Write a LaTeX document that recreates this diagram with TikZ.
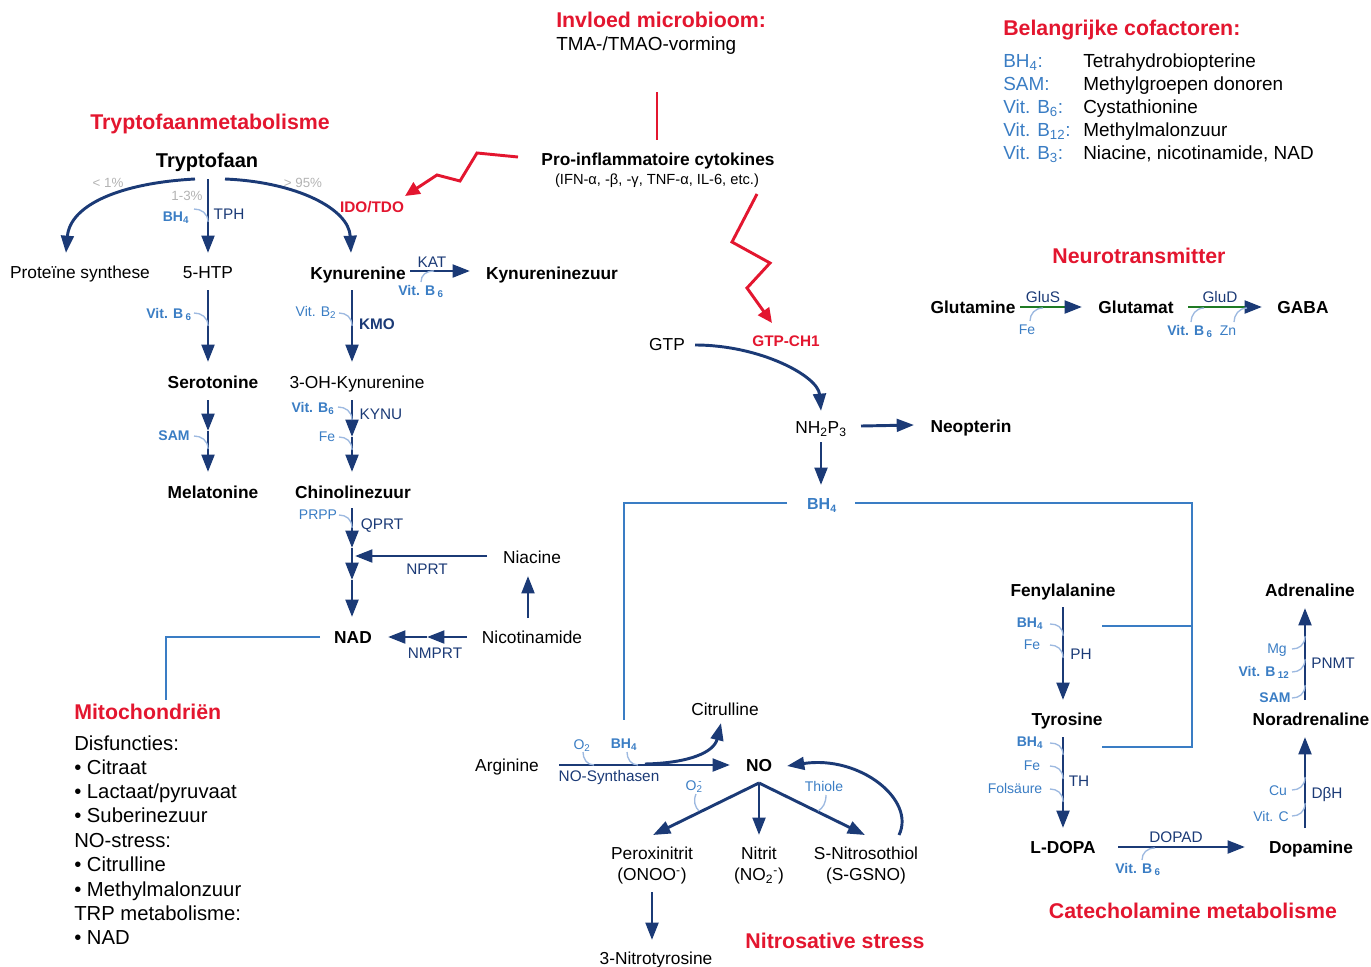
\documentclass[tikz,border=0pt]{standalone}
\usepackage{fontspec}
\setmainfont{Liberation Sans}
\usetikzlibrary{arrows.meta,calc}
\definecolor{navy}{HTML}{1B3A76}
\definecolor{cblue}{HTML}{3A7DC4}
\definecolor{hookc}{HTML}{9DB9E0}
\definecolor{lineblue}{HTML}{3A7DC4}
\definecolor{myred}{HTML}{E3162F}
\definecolor{mygray}{HTML}{B3B3B3}
\definecolor{mygreen}{HTML}{1F7A24}
\newcommand\hkd[2]{\draw[hookl] #1 .. controls +(7,0) and +(0,-9) .. #2;}
\newcommand\hku[2]{\draw[hookl] #1 .. controls +(7,0) and +(0,9) .. #2;}
\newcommand\hkh[2]{\draw[hookl] #1 .. controls +(0,-7) and +(-8,0) .. #2;}
\begin{document}
\begin{tikzpicture}[x=0.75pt,y=-0.75pt,
  every node/.style={inner sep=0pt},
  bn/.style={font=\fontsize{13}{15}\selectfont\bfseries, text height=9.3pt, text depth=0pt},
  rn/.style={font=\fontsize{13}{15}\selectfont, text height=9.3pt, text depth=0pt},
  enz/.style={font=\fontsize{11.5}{13}\selectfont, text=navy, text height=8.2pt, text depth=0pt},
  enzb/.style={font=\fontsize{11.5}{13}\selectfont\bfseries, text=navy, text height=8.2pt, text depth=0pt},
  cof/.style={font=\fontsize{10.5}{12}\selectfont, text=cblue, text height=7.5pt, text depth=0pt},
  cofb/.style={font=\fontsize{10.5}{12}\selectfont\bfseries, text=cblue, text height=7.5pt, text depth=0pt},
  grl/.style={font=\fontsize{10}{12}\selectfont, text=mygray, text height=7.2pt, text depth=0pt},
  hdr/.style={font=\fontsize{16}{18}\selectfont\bfseries, text=myred, text height=11.5pt, text depth=0pt},
  redb/.style={font=\fontsize{11.5}{13}\selectfont\bfseries, text=myred, text height=8.2pt, text depth=0pt},
  lst/.style={font=\fontsize{15.2}{18}\selectfont, anchor=west, text height=10.9pt, text depth=0pt},
  tab/.style={font=\fontsize{14.2}{17}\selectfont, anchor=west, text height=10.2pt, text depth=0pt},
  arr/.style={draw=navy, line width=2.2pt, -{Triangle[length=13pt,width=9.5pt]}},
  garr/.style={draw=mygreen, line width=2.2pt, -{Triangle[length=13pt,width=9.5pt,color=navy]}},
  redarr/.style={draw=myred, line width=2.2pt, line join=miter, -{Triangle[length=11pt,width=10pt]}},
  redl/.style={draw=myred, line width=1.8pt},
  hookl/.style={draw=hookc, line width=1pt},
  bline/.style={draw=lineblue, line width=1.6pt}]
\useasboundingbox (0,0) rectangle (1371,967);

% ---------------- headers ----------------
\node[hdr] (h1) at (210,122) {Tryptofaanmetabolisme};
\node[hdr,anchor=west] (h2) at (556,20) {Invloed microbioom:};
\node[tab] (h2b) at (556,44) {TMA-/TMAO-vorming};
\node[hdr,anchor=west] (h3) at (1003,28) {Belangrijke cofactoren:};
\node[tab,text=cblue] (t1) at (1003,61) {BH\textsubscript{4}:};
\node[tab,text=cblue] (t2) at (1003,84) {SAM:};
\node[tab,text=cblue] (t3) at (1003,107) {Vit. B\textsubscript{6}:};
\node[tab,text=cblue] (t4) at (1003,130) {Vit. B\textsubscript{12}:};
\node[tab,text=cblue] (t5) at (1003,153) {Vit. B\textsubscript{3}:};
\node[tab] (u1) at (1083,61) {Tetrahydrobiopterine};
\node[tab] (u2) at (1083,84) {Methylgroepen donoren};
\node[tab] (u3) at (1083,107) {Cystathionine};
\node[tab] (u4) at (1083,130) {Methylmalonzuur};
\node[tab] (u5) at (1083,153) {Niacine, nicotinamide, NAD};
\node[hdr] (h4) at (1139,256) {Neurotransmitter};
\node[hdr,anchor=west] (h5) at (74,712) {Mitochondriën};
\node[lst] (m1) at (74,743) {Disfuncties:};
\node[lst] (m2) at (74,767) {• Citraat};
\node[lst] (m3) at (74,791) {• Lactaat/pyruvaat};
\node[lst] (m4) at (74,815) {• Suberinezuur};
\node[lst] (m5) at (74,840) {NO-stress:};
\node[lst] (m6) at (74,864) {• Citrulline};
\node[lst] (m7) at (74,889) {• Methylmalonzuur};
\node[lst] (m8) at (74,913) {TRP metabolisme:};
\node[lst] (m9) at (74,937) {• NAD};
\node[hdr] (h6) at (835,941) {Nitrosative stress};
\node[hdr] (h7) at (1193,911) {Catecholamine metabolisme};

% ---------------- tryptophan ----------------
\node[bn,font=\fontsize{15}{17}\selectfont\bfseries,text height=10.7pt] (trp) at (207,160) {Tryptofaan};
\node[rn] (prot) at (80,272) {Proteïne synthese};
\node[rn] (htp) at (208,272) {5-HTP};
\node[bn] (kyn) at (358,273) {Kynurenine};
\node[bn] (kynz) at (552,273) {Kynureninezuur};
\node[bn] (sero) at (213,382) {Serotonine};
\node[bn] (mela) at (213,492) {Melatonine};
\node[rn] (ohk) at (357,382) {3-OH-Kynurenine};
\node[bn] (chin) at (353,492) {Chinolinezuur};
\node[bn] (nad) at (353,637) {NAD};
\node[rn] (nia) at (532,557) {Niacine};
\node[rn] (nic) at (532,637) {Nicotinamide};

\node[grl] (p1) at (108,183) {< 1\%};
\node[grl] (p2) at (187,196) {1-3\%};
\node[grl] (p3) at (303,183) {> 95\%};
\node[cofb] (c1) at (176,216) {BH\textsubscript{4}};
\node[enz] (tph) at (229,214) {TPH};
\node[redb] (ido) at (372,207) {IDO/TDO};

\draw[arr] ($(trp)+(-12,19)$) .. controls +(-75,4) and +(4,-48) .. ($(prot)+(-14,-19)$);
\draw[arr] ($(trp)+(1,19)$) -- ($(htp)+(0,-19)$);
\draw[arr] ($(trp)+(18,19)$) .. controls +(72,3) and +(-2,-44) .. ($(kyn)+(-7,-20)$);
\hkd{(194,209)}{(208,222)}

\draw[arr] ($(htp)+(0,18)$) -- ($(sero)+(-5,-20)$);
\node[cofb] (c2) at (169,313) {Vit. B\,\textsubscript{6}};
\hkd{(194,313)}{(208,326)}

\coordinate (sm) at (208,431);
\draw[arr] ($(sero)+(-5,18)$) -- (sm);
\draw[arr] (sm) -- ($(mela)+(-5,-20)$);
\node[cofb] (c3) at (174,435) {SAM};
\hkd{(194,436)}{(208,449)}

\draw[arr] ($(kyn)+(-6,17)$) -- ($(ohk)+(-5,-20)$);
\node[cof] (c4) at (316,311) {Vit. B\textsubscript{2}};
\hkd{(339,313)}{(352,326)}
\node[enzb] (kmo) at (377,324) {KMO};

\coordinate (ok) at (352,437);
\draw[arr] ($(ohk)+(-5,18)$) -- (ok);
\draw[arr] (ok) -- ($(chin)+(-1,-20)$);
\node[cofb] (c5) at (313,407) {Vit. B\textsubscript{6}};
\hkd{(338,407)}{(352,420)}
\node[enz] (kynu) at (381,414) {KYNU};
\node[cof] (c6) at (327,436) {Fe};
\hkd{(339,437)}{(352,450)}

\coordinate (q1) at (352,548);
\coordinate (q2) at (352,580);
\draw[arr] ($(chin)+(-1,16)$) -- (q1);
\draw[arr] (q1) -- (q2);
\draw[arr] (q2) -- ($(nad)+(-1,-20)$);
\node[cof] (c7) at (318,514) {PRPP};
\hkd{(339,515)}{(352,528)}
\node[enz] (qprt) at (382,524) {QPRT};
\draw[arr] ($(nia)+(-45,-1)$) -- ($(chin)+(2,64)$);
\node[enz] (nprt) at (427,569) {NPRT};
\draw[arr] ($(nic)+(-4,-19)$) -- ($(nia)+(-4,19)$);
\coordinate (nn) at (427,637);
\draw[arr] ($(nic)+(-65,0)$) -- (nn);
\draw[arr] (nn) -- ($(nad)+(35,0)$);
\node[enz] (nmprt) at (435,653) {NMPRT};

\draw[arr] ($(kyn)+(52,-2)$) -- ($(kynz)+(-82,-2)$);
\node[enz] (kat) at (432,262) {KAT};
\node[cofb] (c8) at (421,290) {Vit. B\,\textsubscript{6}};
\hkh{(421,282)}{(434,271)}

\coordinate (mt) at (166,700);
\draw[bline] ($(nad)+(-33,0)$) -- (166,637) -- (mt);

% ---------------- cytokines ----------------
\node[bn] (cyt) at (658,159) {Pro-inflammatoire cytokines};
\node[font=\fontsize{11}{13}\selectfont, text height=7.9pt, text depth=0pt] (cyt2) at (657,179) {(IFN-α, -β, -γ, TNF-α, IL-6, etc.)};
\draw[redl] ($(h2b.west)+(101,48)$) -- ($(cyt)+(-1,-19)$);
\draw[redarr] ($(cyt)+(-140,-2)$) -- (477,153) -- (460,181) -- (437,175) -- ($(ido)+(33,-11)$);
\node[redb] (gtpch) at (786,341) {GTP-CH1};
\draw[redarr] ($(cyt2)+(100,15)$) -- (732,242) -- (770,263) -- (747,288) -- ($(gtpch)+(-14,-18)$);

% ---------------- BH4 synthesis ----------------
\node[rn] (gtp) at (667,344) {GTP};
\node[rn] (nhp) at (821,427) {NH\textsubscript{2}P\textsubscript{3}};
\node[bn] (neo) at (971,426) {Neopterin};
\node[font=\fontsize{12}{14}\selectfont\bfseries, text=cblue, text height=8.6pt, text depth=0pt] (bh4) at (822,504) {BH\textsubscript{4}};
\draw[arr] ($(gtp)+(28,1)$) .. controls +(65,0) and +(-3,-35) .. ($(nhp)+(0,-16)$);
\draw[arr] ($(nhp)+(40,-1)$) -- ($(neo)+(-57,-1)$);
\draw[arr] ($(nhp)+(0,15)$) -- ($(bh4)+(-1,-19)$);
\coordinate (bl) at (624,720);
\draw[bline] ($(bh4)+(-35,-1)$) -- (624,503) -- (bl);
\draw[bline] ($(bh4)+(33,-1)$) -- (1192,503) -- (1192,747) -- (1102,747);
\draw[bline] (1102,626) -- (1192,626);

% ---------------- NO ----------------
\node[rn] (arg) at (507,765) {Arginine};
\node[bn] (no) at (759,765) {NO};
\node[rn] (cit) at (725,709) {Citrulline};
\draw[arr] ($(arg)+(52,0)$) -- ($(no)+(-29,0)$);
\draw[arr] (645,764) .. controls (690,763) and (714,752) .. ($(cit)+(-4,14)$);
\node[enz] (nos) at (609,776) {NO-Synthasen};
\node[cof] (o2) at (582,744) {O\textsubscript{2}};
\node[cofb] (c9) at (624,743) {BH\textsubscript{4}};
\draw[hookl] (583,752) .. controls +(0,7) and +(-7,0) .. (594,765);
\draw[hookl] (627,752) .. controls +(0,7) and +(-7,0) .. (638,765);

\node[rn] (per) at (652,853) {Peroxinitrit};
\node[rn] (per2) at (652,874) {(ONOO\textsuperscript{-})};
\node[rn] (nit) at (759,853) {Nitrit};
\node[rn] (nit2) at (759,874) {(NO\textsubscript{2}\textsuperscript{-})};
\node[rn] (sns) at (866,853) {S-Nitrosothiol};
\node[rn] (sns2) at (866,874) {(S-GSNO)};
\node[rn] (ntyr) at (656,958) {3-Nitrotyrosine};
\draw[arr] ($(no)+(0,18)$) -- ($(per)+(1,-18)$);
\draw[arr] ($(no)+(0,18)$) -- ($(nit)+(0,-18)$);
\draw[arr] ($(no)+(0,18)$) -- ($(sns)+(-1,-18)$);
\draw[arr] ($(sns)+(33,-18)$) .. controls +(17,-35) and +(73,-11) .. ($(no)+(28,1)$);
\draw[arr] ($(per2)+(0,18)$) -- ($(ntyr)+(-4,-18)$);
\node[cof] (o2m) at (694,785) {O\textsubscript{2}\hspace{-0.3em}\textsuperscript{-}};
\draw[hookl] (696,794) .. controls +(-3,7) and +(-4,-4) .. (699,811);
\node[cof] (thi) at (824,786) {Thiole};
\draw[hookl] (826,795) .. controls +(0,8) and +(5,-3) .. (818,811);

% ---------------- neurotransmitter ----------------
\node[bn] (glm) at (973,307) {Glutamine};
\node[bn] (glt) at (1136,307) {Glutamat};
\node[bn] (gaba) at (1303,307) {GABA};
\draw[garr] ($(glm)+(47,0)$) -- ($(glt)+(-54,0)$);
\draw[garr] ($(glt)+(52,0)$) -- ($(gaba)+(-41,0)$);
\node[enz] (glus) at (1043,297) {GluS};
\node[enz] (glud) at (1220,297) {GluD};
\node[cof] (c10) at (1027,329) {Fe};
\hkh{(1030,321)}{(1043,308)}
\node[cofb] (c11) at (1190,330) {Vit. B\,\textsubscript{6}};
\hkh{(1191,322)}{(1204,308)}
\node[cof] (c12) at (1228,330) {Zn};
\hkh{(1234,322)}{(1247,308)}

% ---------------- catecholamines ----------------
\node[bn] (phe) at (1063,590) {Fenylalanine};
\node[bn] (tyr) at (1067,719) {Tyrosine};
\node[bn] (ldopa) at (1063,847) {L-DOPA};
\node[bn] (dopa) at (1311,847) {Dopamine};
\node[bn] (nora) at (1311,719) {Noradrenaline};
\node[bn] (adr) at (1310,590) {Adrenaline};
\draw[arr] ($(phe)+(0,17)$) -- ($(tyr)+(-4,-19)$);
\draw[arr] ($(tyr)+(-4,18)$) -- ($(ldopa)+(0,-19)$);
\draw[arr] ($(ldopa)+(55,0)$) -- ($(dopa)+(-66,0)$);
\draw[arr] ($(dopa)+(-6,-19)$) -- ($(nora)+(-6,18)$);
\draw[arr] ($(nora)+(-6,-19)$) -- ($(adr)+(-5,18)$);

\node[cofb] (d1) at (1030,622) {BH\textsubscript{4}};
\hkd{(1050,624)}{(1063,636)}
\node[cof] (d2) at (1032,644) {Fe};
\hkd{(1050,645)}{(1063,658)}
\node[enz] (ph) at (1081,654) {PH};
\node[cofb] (d3) at (1030,741) {BH\textsubscript{4}};
\hkd{(1050,743)}{(1063,755)}
\node[cof] (d4) at (1032,765) {Fe};
\hkd{(1050,766)}{(1063,779)}
\node[cof] (d5) at (1015,788) {Folsäure};
\hkd{(1050,789)}{(1063,802)}
\node[enz] (th) at (1079,781) {TH};
\node[enz] (dopad) at (1176,837) {DOPAD};
\node[cofb] (d6) at (1138,868) {Vit. B\,\textsubscript{6}};
\hkh{(1142,860)}{(1155,848)}
\node[cof] (d7) at (1278,790) {Cu};
\hku{(1292,790)}{(1305,777)}
\node[cof] (d8) at (1271,816) {Vit. C};
\hku{(1292,816)}{(1305,803)}
\node[enz] (dbh) at (1327,793) {DβH};
\node[cof] (d9) at (1277,648) {Mg};
\hku{(1292,649)}{(1305,636)}
\node[cofb] (d10) at (1264,671) {Vit. B\,\textsubscript{12}};
\hku{(1292,672)}{(1305,659)}
\node[cofb] (d11) at (1275,697) {SAM};
\hku{(1292,698)}{(1305,685)}
\node[enz] (pnmt) at (1333,663) {PNMT};
\end{tikzpicture}
\end{document}
